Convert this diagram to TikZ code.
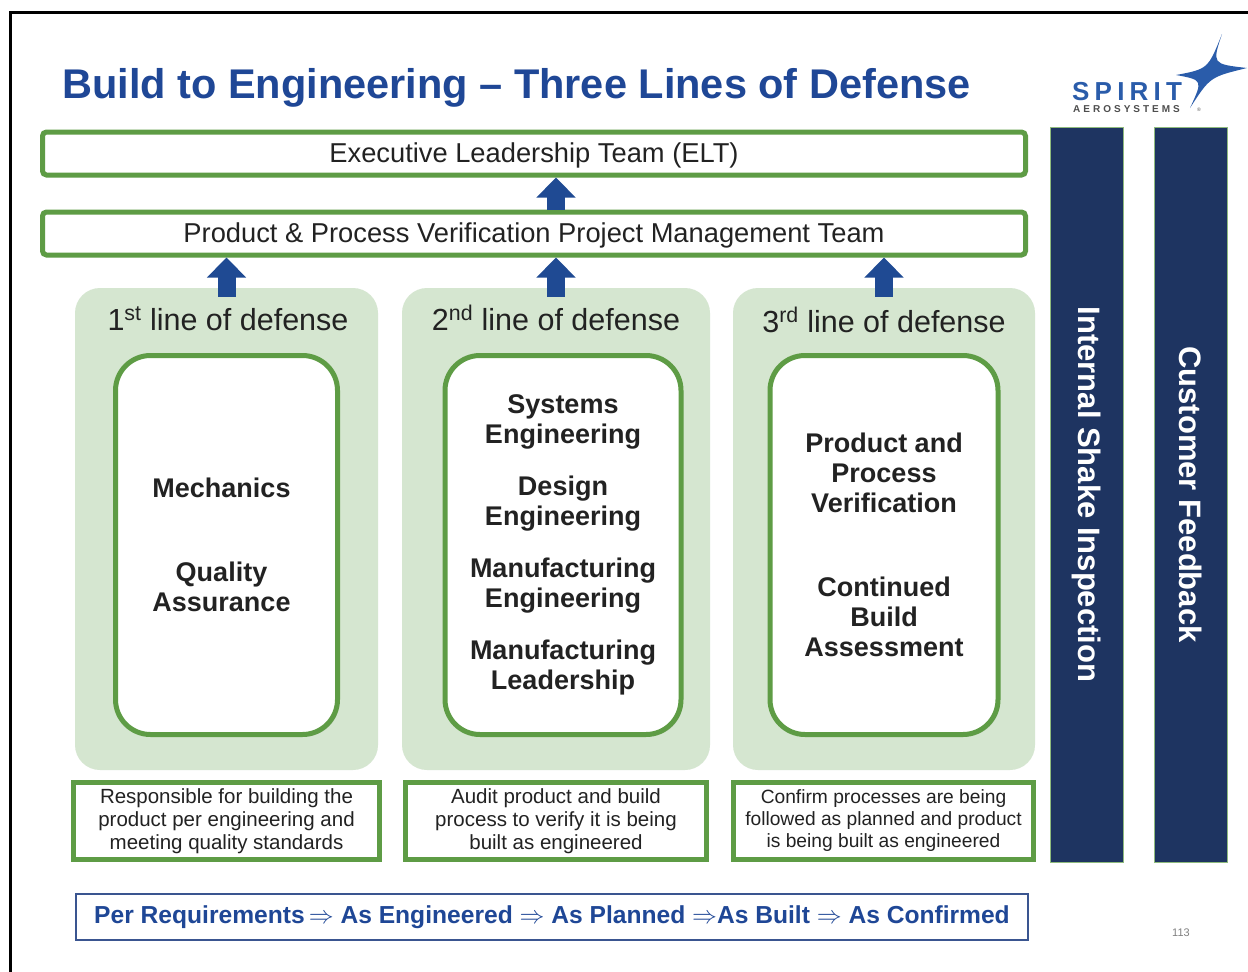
\documentclass[tikz,border=0pt]{standalone}
\usepackage{fontspec}
\setmainfont{Liberation Sans}
\newfontfamily\logofont[LetterSpace=20]{Liberation Sans}
\newfontfamily\logosmall[LetterSpace=30]{Liberation Sans}
\usetikzlibrary{shadows,arrows.meta}
\definecolor{gbord}{HTML}{5E9C45}
\definecolor{pfill}{HTML}{D5E6D0}
\definecolor{tblue}{HTML}{1F4796}
\definecolor{ablue}{HTML}{1F4A93}
\definecolor{navy}{HTML}{1E3461}
\definecolor{txt}{HTML}{222222}
\definecolor{lblue}{HTML}{2A5CAA}
\definecolor{bblue}{HTML}{3A5590}
\tikzset{
  myshadow/.style={drop shadow={shadow xshift=2pt,shadow yshift=-2pt,opacity=.25}},
  topbox/.style={draw=gbord,line width=5pt,fill=white,rounded corners=4pt,minimum width=983pt,minimum height=43pt,inner sep=0pt,text height=21pt,text depth=4pt,font=\fontsize{27.3}{30}\selectfont,text=txt,myshadow},
  panel/.style={fill=pfill,rounded corners=25pt,minimum height=482pt,inner sep=0pt},
  inbox/.style={draw=gbord,line width=5pt,fill=white,rounded corners=35pt,minimum height=379pt,inner sep=0pt,align=center,font=\bfseries\fontsize{27}{30}\selectfont,text=txt,myshadow},
  desc/.style={draw=gbord,line width=5pt,fill=white,minimum height=77pt,inner sep=0pt,align=center,font=\fontsize{20.5}{23}\selectfont,text=txt,myshadow},
  plabel/.style={anchor=base,font=\fontsize{30.5}{33}\selectfont,text=txt},
  sidebar/.style={fill=navy,draw=gbord!70,line width=1pt,minimum width=73pt,minimum height=735pt,inner sep=0pt},
  bartext/.style={rotate=-90,text=white,font=\bfseries\fontsize{31}{34}\selectfont},
  blockarrow/.style={ablue,line width=18pt,-{Triangle[width=38pt,length=20pt]}}
}
\begin{document}
\begin{tikzpicture}[x=1pt,y=-1pt]
\useasboundingbox (0,0) rectangle (1248,972);
\fill[white] (0,0) rectangle (1248,972);
% frame
\draw[line width=3pt] (10,972) -- (10,12) -- (1248,12);
% title
\node[anchor=base west,text=tblue,font=\bfseries\fontsize{41.5}{45}\selectfont,inner sep=0pt] (title) at (62,98) {Build to Engineering -- Three Lines of Defense};
% logo
\fill[lblue] (1222,34) .. controls (1212,64) .. (1247,68) .. controls (1210,77) .. (1190,108) .. controls (1203,80) .. (1176,75) .. controls (1208,69) .. cycle;
\node[anchor=base west,inner sep=0pt,text depth=0pt,text=lblue,font=\logofont\bfseries\fontsize{26}{28}\selectfont] (spirit) at (1072,100.5) {SPIRIT};
\node[anchor=base west,inner sep=0pt,text height=7pt,text depth=0pt,text=txt!80,font=\logosmall\bfseries\fontsize{10}{10}\selectfont] (aero) at (1073,112) {AEROSYSTEMS};
\node[anchor=base west,inner sep=0pt,text=txt!80,font=\fontsize{5}{6}\selectfont] (reg) at (1197,111) {\textregistered};
% top boxes
\node[topbox] (elt) at (534,153.5) {Executive Leadership Team (ELT)};
\node[topbox] (ppv) at (534,233.5) {Product \& Process Verification Project Management Team};
% panels
\node[panel,minimum width=303pt] (p1) at (226.5,529) {};
\node[panel,minimum width=308pt] (p2) at (556,529) {};
\node[panel,minimum width=302pt] (p3) at (884,529) {};
\node[plabel] (l1) at (228,330) {1\textsuperscript{st} line of defense};
\node[plabel] (l2) at (556,330) {2\textsuperscript{nd} line of defense};
\node[plabel] (l3) at (884,332) {3\textsuperscript{rd} line of defense};
% inner boxes
\node[inbox,minimum width=222pt] (b1) at (226.5,545) {};
\node[align=center,inner sep=0pt,font=\bfseries\fontsize{27}{30}\selectfont,text=txt] (b1t) at ([xshift=-5pt]b1.center) {Mechanics\\[54pt]Quality\\Assurance};
\node[inbox,minimum width=236pt] (b2) at (563,545) {Systems\\Engineering\\[22pt]Design\\Engineering\\[22pt]Manufacturing\\Engineering\\[22pt]Manufacturing\\Leadership};
\node[inbox,minimum width=228pt] (b3) at (884,545) {Product and\\Process\\Verification\\[54pt]Continued\\Build\\Assessment};
% description boxes
\node[desc,minimum width=306pt] (d1) at (226.5,821) {Responsible for building the\\product per engineering and\\meeting quality standards};
\node[desc,minimum width=301pt] (d2) at (556,821) {Audit product and build\\process to verify it is being\\built as engineered};
\node[desc,minimum width=300pt,font=\fontsize{19.2}{22}\selectfont] (d3) at (883.5,821) {Confirm processes are being\\followed as planned and product\\is being built as engineered};
% arrows
\draw[blockarrow] (ppv.north -| p2.north) -- (elt.south -| p2.north);
\draw[blockarrow] ([yshift=-9pt]p1.north) -- (ppv.south -| p1.north);
\draw[blockarrow] ([yshift=-9pt]p2.north) -- (ppv.south -| p2.north);
\draw[blockarrow] ([yshift=-9pt]p3.north) -- (ppv.south -| p3.north);
% side bars
\node[sidebar] (s1) at (1086.5,494.5) {};
\node[sidebar] (s2) at (1190.5,494.5) {};
\node[bartext] (t1) at (s1.center) {Internal Shake Inspection};
\node[bartext] (t2) at (s2.center) {Customer Feedback};
% flow box
\node[draw=bblue,line width=1.5pt,minimum width=952pt,minimum height=46pt,inner sep=0pt,text=tblue,font=\bfseries\fontsize{24.6}{28}\selectfont] (flow) at (552,917) {Per Requirements\,$\Rightarrow$ As Engineered $\Rightarrow$ As Planned $\Rightarrow$As Built $\Rightarrow$ As Confirmed};
% page number
\node[text=gray,font=\fontsize{11}{12}\selectfont] (pg) at (1181,933) {113};
\end{tikzpicture}
\end{document}
